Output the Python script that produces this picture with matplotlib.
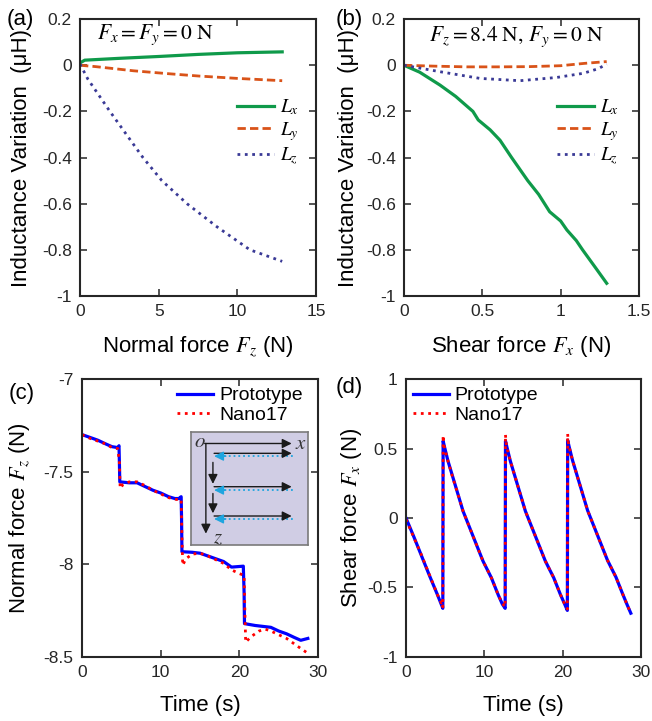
import numpy as np
import matplotlib
matplotlib.use("Agg")
import matplotlib.pyplot as plt
from matplotlib.ticker import FuncFormatter

plt.rcParams['font.family'] = ['Liberation Sans', 'DejaVu Sans']
plt.rcParams['mathtext.fontset'] = 'stix'
plt.rcParams['axes.unicode_minus'] = False

# ---- (a) inductance vs normal force ----
fz_lx = [0, 0.3, 2.5, 5, 7.5, 10, 12.85]
lx_a = [0.01, 0.022, 0.03, 0.038, 0.047, 0.054, 0.058]
fz_ly = [0, 1, 3.4, 5.5, 7.6, 10, 12.85]
ly_a = [0, -0.006, -0.024, -0.036, -0.047, -0.057, -0.067]
fz_lz = [0, 0.5, 1, 1.9, 3, 4, 5.2, 6.8, 8.7, 10.8, 12.85]
lz_a = [0.005, -0.06, -0.11, -0.2, -0.305, -0.4, -0.5, -0.6, -0.7, -0.8, -0.85]

# ---- (b) inductance vs shear force ----
fx_lx = [0, 0.1, 0.23, 0.33, 0.44, 0.474, 0.55, 0.613, 0.687, 0.79, 0.86, 0.93, 1.0, 1.04,
         1.1, 1.14, 1.22, 1.294]
lx_b = [0, -0.03, -0.086, -0.135, -0.2, -0.237, -0.28, -0.325, -0.4, -0.5, -0.56, -0.635,
        -0.675, -0.714, -0.76, -0.8, -0.875, -0.945]
fx_ly = [0, 0.2, 0.4, 0.6, 0.8, 1.0, 1.15, 1.294]
ly_b = [0, -0.004, -0.007, -0.007, -0.006, -0.002, 0.008, 0.016]
fx_lz = [0, 0.23, 0.485, 0.74, 0.974, 1.144, 1.24, 1.294]
lz_b = [0, -0.028, -0.057, -0.067, -0.053, -0.035, -0.015, 0.005]

# ---- (c) normal force tracking ----
t_c_proto = [0, 1, 2, 3, 3.8, 4.55, 4.7, 4.75, 4.8, 6, 7, 8, 9, 10, 11, 11.8, 12.3, 12.6,
             12.65, 12.7, 14, 15, 16, 17, 18, 19, 20.5, 20.6, 20.65, 22, 23, 24, 25, 26, 27, 27.8, 28.7]
fz_proto = [-7.30, -7.315, -7.33, -7.35, -7.365, -7.37, -7.36, -7.45, -7.555, -7.56, -7.56, -7.58,
            -7.60, -7.615, -7.635, -7.645, -7.645, -7.635, -7.75, -7.932, -7.935, -7.94, -7.955,
            -7.97, -7.985, -8.015, -8.01, -8.15, -8.32, -8.33, -8.335, -8.34, -8.36, -8.375,
            -8.395, -8.41, -8.40]
t_c_nano = [0, 1, 2, 3, 3.8, 4.55, 4.75, 4.85, 5.2, 6, 7, 8, 9, 10, 11, 12, 12.6, 12.7, 12.8,
            13.2, 14, 15, 16, 17, 18, 19, 20, 20.6, 20.7, 20.8, 21.5, 22.5, 23.3, 24, 25, 26, 27, 28, 28.7]
fz_nano = [-7.30, -7.32, -7.335, -7.35, -7.37, -7.375, -7.45, -7.59, -7.57, -7.555, -7.555,
           -7.575, -7.60, -7.62, -7.64, -7.65, -7.65, -7.85, -8.005, -7.97, -7.945, -7.94,
           -7.955, -7.975, -7.995, -8.03, -8.05, -8.06, -8.25, -8.42, -8.39, -8.36, -8.35,
           -8.36, -8.38, -8.40, -8.43, -8.46, -8.48]

# ---- (d) shear force tracking ----
t_d_proto = [0, 1, 2, 3, 4, 4.6, 4.7,
             4.74, 4.94, 5.36, 6.0, 6.64, 7.28, 8.13, 8.98, 9.83, 10.9, 11.75, 12.3, 12.66,
             12.7, 12.9, 13.32, 13.96, 14.6, 15.24, 16.09, 16.94, 17.79, 18.86, 19.71, 20.26, 20.6,
             20.64, 20.84, 21.26, 21.9, 22.54, 23.18, 24.03, 24.88, 25.73, 26.8, 27.65, 28.2, 28.7]
fx_proto = [0, -0.135, -0.275, -0.415, -0.55, -0.635, -0.65,
            0.555, 0.506, 0.41, 0.29, 0.17, 0.05, -0.07, -0.19, -0.31, -0.43, -0.55, -0.62, -0.65,
            0.555, 0.506, 0.41, 0.29, 0.17, 0.05, -0.07, -0.19, -0.31, -0.43, -0.55, -0.62, -0.665,
            0.56, 0.51, 0.415, 0.295, 0.175, 0.055, -0.065, -0.185, -0.305, -0.425, -0.545, -0.62, -0.685]
t_d_nano = [0, 1, 2, 3, 4, 4.5, 4.65, 4.7,
            4.74, 4.8, 4.94, 5.36, 6.0, 6.64, 7.28, 8.13, 8.98, 9.83, 10.9, 11.75, 12.3, 12.66,
            12.7, 12.76, 12.9, 13.32, 13.96, 14.6, 15.24, 16.09, 16.94, 17.79, 18.86, 19.71, 20.26, 20.6,
            20.64, 20.7, 20.84, 21.26, 21.9, 22.54, 23.18, 24.03, 24.88, 25.73, 26.8, 27.65, 28.2, 28.7]
fx_nano = [-0.01, -0.14, -0.27, -0.41, -0.55, -0.61, -0.6, -0.64,
           0.595, 0.54, 0.5, 0.41, 0.285, 0.17, 0.05, -0.07, -0.19, -0.31, -0.43, -0.55, -0.615, -0.64,
           0.6, 0.55, 0.5, 0.41, 0.29, 0.17, 0.05, -0.07, -0.19, -0.31, -0.43, -0.55, -0.62, -0.655,
           0.605, 0.55, 0.51, 0.415, 0.295, 0.175, 0.055, -0.065, -0.185, -0.305, -0.425, -0.545, -0.62, -0.685]

GREEN = '#0f9a4a'
ORANGE = '#d95319'
PURPLE = '#3a3a96'
AXC = '#262626'


def fmt(v, pos):
    return '%g' % v


def style(ax):
    ax.tick_params(direction='in', top=True, right=True, length=5, width=1.1,
                   labelsize=12.5, colors=AXC, pad=6)
    for s in ax.spines.values():
        s.set_linewidth(1.5)
        s.set_color(AXC)
    ax.xaxis.set_major_formatter(FuncFormatter(fmt))
    ax.yaxis.set_major_formatter(FuncFormatter(fmt))


fig = plt.figure(figsize=(6.52, 7.21), dpi=100)

ax_a = fig.add_axes([0.1227, 0.5895, 0.362, 0.384])
ax_b = fig.add_axes([0.6196, 0.5895, 0.3604, 0.384])
ax_c = fig.add_axes([0.1258, 0.0888, 0.362, 0.3855])
ax_d = fig.add_axes([0.6227, 0.0888, 0.3604, 0.3855])

# (a)
ax_a.plot(fz_lx, lx_a, color=GREEN, lw=2.3, label=r'$L_x$')
ax_a.plot(fz_ly, ly_a, color=ORANGE, lw=2.0, ls='--', dashes=(3, 1.5), label=r'$L_y$')
ax_a.plot(fz_lz, lz_a, color=PURPLE, lw=2.0, ls=':', label=r'$L_z$')
ax_a.set_xlim(0, 15)
ax_a.set_ylim(-1, 0.2)
ax_a.set_xticks([0, 5, 10, 15])
ax_a.set_yticks([-1, -0.8, -0.6, -0.4, -0.2, 0, 0.2])
ax_a.text(0.072, 0.945, r'$F_x = F_y = 0\ \mathrm{N}$', transform=ax_a.transAxes,
          fontsize=15.5, va='center', ha='left')
ax_a.legend(loc='upper left', bbox_to_anchor=(0.632, 0.745), borderaxespad=0, frameon=False,
            fontsize=14, handlelength=1.9, handletextpad=0.3, labelspacing=0.15)
ax_a.set_xlabel(r'Normal force $F_z$ (N)', fontsize=16, va='center')
ax_a.set_ylabel('Inductance Variation  (μH)', fontsize=16, va='center')
ax_a.xaxis.set_label_coords(0.5, -0.184)
ax_a.yaxis.set_label_coords(-0.246, 0.5)
style(ax_a)

# (b)
ax_b.plot(fx_lx, lx_b, color=GREEN, lw=2.3, label=r'$L_x$')
ax_b.plot(fx_ly, ly_b, color=ORANGE, lw=2.0, ls='--', dashes=(3, 1.5), label=r'$L_y$')
ax_b.plot(fx_lz, lz_b, color=PURPLE, lw=2.0, ls=':', label=r'$L_z$')
ax_b.set_xlim(0, 1.5)
ax_b.set_ylim(-1, 0.2)
ax_b.set_xticks([0, 0.5, 1, 1.5])
ax_b.set_yticks([-1, -0.8, -0.6, -0.4, -0.2, 0, 0.2])
ax_b.text(0.48, 0.935, r'$F_z = 8.4\ \mathrm{N},\, F_y = 0\ \mathrm{N}$', transform=ax_b.transAxes,
          fontsize=15.5, va='center', ha='center')
ax_b.legend(loc='upper left', bbox_to_anchor=(0.617, 0.745), borderaxespad=0, frameon=False,
            fontsize=14, handlelength=1.9, handletextpad=0.3, labelspacing=0.15)
ax_b.set_xlabel(r'Shear force $F_x$ (N)', fontsize=16, va='center')
ax_b.set_ylabel('Inductance Variation  (μH)', fontsize=16, va='center')
ax_b.xaxis.set_label_coords(0.5, -0.184)
ax_b.yaxis.set_label_coords(-0.234, 0.5)
style(ax_b)

# (c)
ax_c.plot(t_c_proto, fz_proto, color='#0000ff', lw=2.3, label='Prototype')
ax_c.plot(t_c_nano, fz_nano, color='#ff0000', lw=2.0, ls=':', label='Nano17')
ax_c.set_xlim(0, 30)
ax_c.set_ylim(-8.5, -7)
ax_c.set_xticks([0, 10, 20, 30])
ax_c.set_yticks([-8.5, -8, -7.5, -7])
ax_c.legend(loc='upper left', bbox_to_anchor=(0.37, 1.0), borderaxespad=0, frameon=False,
            fontsize=14, handlelength=1.85, handletextpad=0.3, labelspacing=0.1)
ax_c.set_xlabel('Time (s)', fontsize=16, va='center')
ax_c.set_ylabel(r'Normal force $F_z$ (N)', fontsize=16, va='center')
ax_c.xaxis.set_label_coords(0.5, -0.176)
ax_c.yaxis.set_label_coords(-0.263, 0.5)
style(ax_c)

# inset sketch of the sliding path
ins = ax_c.inset_axes([0.46, 0.403, 0.498, 0.407])
ins.set_facecolor('#d0cde4')
ins.set_xlim(0, 1)
ins.set_ylim(0, 1)
ins.set_xticks([])
ins.set_yticks([])
for s in ins.spines.values():
    s.set_color('#7a7a7a')
    s.set_linewidth(1.2)
CYAN = '#1ea5df'
ap = dict(arrowstyle='-|>', color='#1a1a1a', lw=1.0, mutation_scale=14, shrinkA=0, shrinkB=0)
ins.annotate('', xy=(0.86, 0.897), xytext=(0.12, 0.897), arrowprops=ap)
ins.annotate('', xy=(0.13, 0.1), xytext=(0.13, 0.897), arrowprops=ap)
ins.text(0.08, 0.915, r'$o$', fontsize=15, ha='center', va='center', color='#333333')
ins.text(0.935, 0.9, r'$x$', fontsize=15, ha='center', va='center', color='#333333')
ins.text(0.23, 0.065, r'$z$', fontsize=15, ha='center', va='center', color='#333333')
for yb, yc in [(0.81, 0.785), (0.515, 0.485), (0.256, 0.23)]:
    ins.annotate('', xy=(0.86, yb), xytext=(0.2, yb), arrowprops=ap)
    ins.plot([0.28, 0.87], [yc, yc], color=CYAN, ls=':', lw=1.3)
    ins.annotate('', xy=(0.2, yc), xytext=(0.3, yc),
                 arrowprops=dict(arrowstyle='-|>', color=CYAN, lw=1.0, mutation_scale=14,
                                 shrinkA=0, shrinkB=0))
for y0, y1 in [(0.73, 0.54), (0.455, 0.28)]:
    ins.annotate('', xy=(0.19, y1), xytext=(0.19, y0), arrowprops=ap)

# (d)
ax_d.plot(t_d_proto, fx_proto, color='#0000ff', lw=2.3, label='Prototype')
ax_d.plot(t_d_nano, fx_nano, color='#ff0000', lw=2.0, ls=':', label='Nano17')
ax_d.set_xlim(0, 30)
ax_d.set_ylim(-1, 1)
ax_d.set_xticks([0, 10, 20, 30])
ax_d.set_yticks([-1, -0.5, 0, 0.5, 1])
ax_d.legend(loc='upper left', bbox_to_anchor=(-0.005, 1.0), borderaxespad=0, frameon=False,
            fontsize=14, handlelength=1.85, handletextpad=0.3, labelspacing=0.1)
ax_d.set_xlabel('Time (s)', fontsize=16, va='center')
ax_d.set_ylabel(r'Shear force $F_x$ (N)', fontsize=16, va='center')
ax_d.xaxis.set_label_coords(0.5, -0.176)
ax_d.yaxis.set_label_coords(-0.234, 0.5)
style(ax_d)

# panel letters
fig.text(20 / 652, 1 - 20 / 721, '(a)', fontsize=16, ha='center', va='center')
fig.text(349 / 652, 1 - 20 / 721, '(b)', fontsize=16, ha='center', va='center')
fig.text(22 / 652, 1 - 393 / 721, '(c)', fontsize=16, ha='center', va='center')
fig.text(349 / 652, 1 - 388 / 721, '(d)', fontsize=16, ha='center', va='center')

fig.savefig('out.png', dpi=100)
